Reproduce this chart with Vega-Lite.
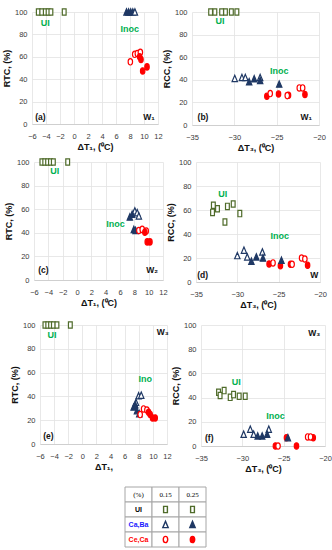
{
 "$schema": "https://vega.github.io/schema/vega-lite/v6.json",
 "padding": {"left": 2, "top": 6, "right": 0, "bottom": 0},
 "background": "white",
 "spacing": 3,
 "datasets": {
  "pts": [
   {"p":"a","s":"CC15","x":8.05,"y":55.5},{"p":"a","s":"CC15","x":8.67,"y":62.2},{"p":"a","s":"CC15","x":9.05,"y":63},{"p":"a","s":"CC15","x":9.48,"y":64},
   {"p":"a","s":"CC25","x":9.38,"y":60},{"p":"a","s":"CC25","x":9.57,"y":57.6},{"p":"a","s":"CC25","x":9.81,"y":47.4},{"p":"a","s":"CC25","x":10.43,"y":51},
   {"p":"a","s":"CB25","x":7.5,"y":100},{"p":"a","s":"CB25","x":7.8,"y":100},{"p":"a","s":"CB25","x":8.1,"y":100},{"p":"a","s":"CB25","x":8.4,"y":100},{"p":"a","s":"CB15","x":8.7,"y":100},
   {"p":"a","s":"UI15","x":-5.1,"y":100},{"p":"a","s":"UI15","x":-4.6,"y":100},{"p":"a","s":"UI15","x":-4.1,"y":100},{"p":"a","s":"UI25","x":-3.7,"y":100},{"p":"a","s":"UI25","x":-3.3,"y":100},{"p":"a","s":"UI25","x":-1.4,"y":100},

   {"p":"b","s":"CC25","x":-26.16,"y":25.5},{"p":"b","s":"CC25","x":-24.78,"y":27.5},{"p":"b","s":"CC25","x":-23.6,"y":26.4},{"p":"b","s":"CC25","x":-21.66,"y":27},
   {"p":"b","s":"CC15","x":-25.76,"y":27.8},{"p":"b","s":"CC15","x":-23.75,"y":26},{"p":"b","s":"CC15","x":-22.33,"y":32.8},{"p":"b","s":"CC15","x":-21.93,"y":32.8},
   {"p":"b","s":"CB15","x":-29.95,"y":41.2},{"p":"b","s":"CB15","x":-29.1,"y":42},{"p":"b","s":"CB15","x":-28.7,"y":42},{"p":"b","s":"CB15","x":-26.95,"y":42},
   {"p":"b","s":"CB25","x":-28.25,"y":38.3},{"p":"b","s":"CB25","x":-27.65,"y":40.9},{"p":"b","s":"CB25","x":-26.95,"y":39.5},{"p":"b","s":"CB25","x":-24.7,"y":36.2},
   {"p":"b","s":"UI15","x":-32.8,"y":100},{"p":"b","s":"UI15","x":-32.3,"y":100},{"p":"b","s":"UI15","x":-31.05,"y":100},{"p":"b","s":"UI25","x":-31.5,"y":100},{"p":"b","s":"UI25","x":-30.35,"y":100},{"p":"b","s":"UI25","x":-29.7,"y":100},

   {"p":"c","s":"CB15","x":8.07,"y":58.6},{"p":"c","s":"CB15","x":8.4,"y":57.1},{"p":"c","s":"CB15","x":8.63,"y":54.3},
   {"p":"c","s":"CB25","x":7.37,"y":53.4},{"p":"c","s":"CB25","x":7.7,"y":55.7},{"p":"c","s":"CB25","x":7.93,"y":42.9},{"p":"c","s":"CB25","x":8.17,"y":42},
   {"p":"c","s":"CC15","x":8.63,"y":42},{"p":"c","s":"CC15","x":9.1,"y":42.9},{"p":"c","s":"CC15","x":9.66,"y":41.5},
   {"p":"c","s":"CC25","x":9.47,"y":40.5},{"p":"c","s":"CC25","x":9.8,"y":32.3},{"p":"c","s":"CC25","x":10.18,"y":32.3},
   {"p":"c","s":"UI15","x":-4.9,"y":100},{"p":"c","s":"UI15","x":-4.5,"y":100},{"p":"c","s":"UI15","x":-4.1,"y":100},{"p":"c","s":"UI25","x":-3.7,"y":100},{"p":"c","s":"UI25","x":-3.3,"y":100},{"p":"c","s":"UI25","x":-1.3,"y":100},

   {"p":"d","s":"CC25","x":-26.16,"y":15},{"p":"d","s":"CC25","x":-24.79,"y":13.6},{"p":"d","s":"CC25","x":-23.57,"y":14.8},{"p":"d","s":"CC25","x":-21.5,"y":13.9},
   {"p":"d","s":"CC15","x":-25.68,"y":15.9},{"p":"d","s":"CC15","x":-23.37,"y":14.8},{"p":"d","s":"CC15","x":-22.23,"y":20},{"p":"d","s":"CC15","x":-21.83,"y":19.2},
   {"p":"d","s":"CB15","x":-30.0,"y":22},{"p":"d","s":"CB15","x":-29.2,"y":26.5},{"p":"d","s":"CB15","x":-28.8,"y":20.9},{"p":"d","s":"CB15","x":-26.97,"y":25},
   {"p":"d","s":"CB25","x":-28.3,"y":17.3},{"p":"d","s":"CB25","x":-27.7,"y":20.9},{"p":"d","s":"CB25","x":-26.9,"y":20},{"p":"d","s":"CB25","x":-24.66,"y":18.1},
   {"p":"d","s":"UI15","x":-33.0,"y":58},{"p":"d","s":"UI15","x":-32.9,"y":64},{"p":"d","s":"UI15","x":-32.4,"y":61},{"p":"d","s":"UI15","x":-31.5,"y":50},
   {"p":"d","s":"UI25","x":-31.2,"y":63},{"p":"d","s":"UI25","x":-30.5,"y":65},{"p":"d","s":"UI25","x":-29.7,"y":57},

   {"p":"e","s":"CB15","x":7.98,"y":40.5},{"p":"e","s":"CB15","x":8.35,"y":41},{"p":"e","s":"CB15","x":7.6,"y":35},
   {"p":"e","s":"CB25","x":7.27,"y":31},{"p":"e","s":"CB25","x":7.5,"y":33},{"p":"e","s":"CB25","x":7.74,"y":28},{"p":"e","s":"CB25","x":8.07,"y":25.5},
   {"p":"e","s":"CC15","x":8.2,"y":24.7},{"p":"e","s":"CC15","x":8.68,"y":29.5},{"p":"e","s":"CC15","x":9.15,"y":28.6},
   {"p":"e","s":"CC25","x":9.39,"y":26.7},{"p":"e","s":"CC25","x":9.62,"y":24.7},{"p":"e","s":"CC25","x":9.95,"y":21.9},{"p":"e","s":"CC25","x":10.33,"y":21.9},
   {"p":"e","s":"UI15","x":-5.3,"y":100},{"p":"e","s":"UI15","x":-4.9,"y":100},{"p":"e","s":"UI15","x":-4.5,"y":100},{"p":"e","s":"UI25","x":-4.1,"y":100},{"p":"e","s":"UI25","x":-3.6,"y":100},{"p":"e","s":"UI25","x":-1.7,"y":100},

   {"p":"f","s":"CC25","x":-26.0,"y":0},{"p":"f","s":"CC25","x":-23.45,"y":0},{"p":"f","s":"CC25","x":-24.66,"y":6.9},{"p":"f","s":"CC25","x":-21.42,"y":6.9},
   {"p":"f","s":"CC15","x":-25.68,"y":0},{"p":"f","s":"CC15","x":-22.1,"y":7.5},{"p":"f","s":"CC15","x":-21.75,"y":7.5},
   {"p":"f","s":"CB15","x":-29.84,"y":9.7},{"p":"f","s":"CB15","x":-29.04,"y":13.9},{"p":"f","s":"CB15","x":-28.63,"y":9.7},{"p":"f","s":"CB15","x":-26.8,"y":13.9},
   {"p":"f","s":"CB25","x":-28.14,"y":8.3},{"p":"f","s":"CB25","x":-27.6,"y":8.3},{"p":"f","s":"CB25","x":-27.0,"y":9.7},{"p":"f","s":"CB25","x":-24.49,"y":6.9},
   {"p":"f","s":"UI15","x":-32.88,"y":44.4},{"p":"f","s":"UI15","x":-32.69,"y":41.7},{"p":"f","s":"UI15","x":-32.2,"y":45.8},{"p":"f","s":"UI15","x":-31.47,"y":40.2},
   {"p":"f","s":"UI25","x":-31.06,"y":42.5},{"p":"f","s":"UI25","x":-30.38,"y":41.1},{"p":"f","s":"UI25","x":-29.65,"y":41.1}
  ],
  "lab": [
   {"p":"a","k":"g","t":"UI","x":-4.1,"y":90},{"p":"a","k":"g","t":"Inoc","x":7.95,"y":85},{"p":"a","k":"k","t":"(a)","x":-4.8,"y":6},{"p":"a","k":"k","t":"W₁","x":10.7,"y":6},
   {"p":"b","k":"g","t":"UI","x":-31.7,"y":92},{"p":"b","k":"g","t":"Inoc","x":-24.7,"y":48},{"p":"b","k":"k","t":"(b)","x":-33.7,"y":7.5},{"p":"b","k":"k","t":"W₁","x":-21.5,"y":7.5},
   {"p":"c","k":"g","t":"UI","x":-3.1,"y":92},{"p":"c","k":"g","t":"Inoc","x":5.36,"y":47.7},{"p":"c","k":"k","t":"(c)","x":-4.7,"y":8.6},{"p":"c","k":"k","t":"W₂","x":10.5,"y":8.6},
   {"p":"d","k":"g","t":"UI","x":-31.76,"y":73},{"p":"d","k":"g","t":"Inoc","x":-24.87,"y":38.2},{"p":"d","k":"k","t":"(d)","x":-34.2,"y":5.6},{"p":"d","k":"k","t":"W","x":-20.7,"y":5.6},
   {"p":"e","k":"g","t":"UI","x":-4.3,"y":92},{"p":"e","k":"g","t":"Ino","x":8.9,"y":54.7},{"p":"e","k":"k","t":"(e)","x":-4.8,"y":6.5},{"p":"e","k":"k","t":"W₃","x":11.4,"y":94},
   {"p":"f","k":"g","t":"UI","x":-30.74,"y":52.8},{"p":"f","k":"g","t":"Inoc","x":-26.0,"y":25},{"p":"f","k":"k","t":"(f)","x":-34.0,"y":7},{"p":"f","k":"k","t":"W₃","x":-21.3,"y":93}
  ],
  "tbl": [
   {"r":"h","c":"c0","t":"(%)","kind":"serif"},{"r":"h","c":"c1","t":"0.15","kind":"serif"},{"r":"h","c":"c2","t":"0.25","kind":"serif"},
   {"r":"UI","c":"c0","t":"UI","kind":"lab"},{"r":"UI","c":"c1","s":"UI15"},{"r":"UI","c":"c2","s":"UI25"},
   {"r":"CB","c":"c0","t":"Ca,Ba","kind":"lab"},{"r":"CB","c":"c1","s":"CB15"},{"r":"CB","c":"c2","s":"CB25"},
   {"r":"CC","c":"c0","t":"Ce,Ca","kind":"lab"},{"r":"CC","c":"c1","s":"CC15"},{"r":"CC","c":"c2","s":"CC25"}
  ]
 },
 "vconcat": [
  {"bounds": "flush", "spacing": 0, "hconcat": [
   {"width": 28, "height": 140, "data": {"values": [{}]}, "mark": {"type": "rect", "opacity": 0}},
   {"width": 126, "height": 112,
    "encoding": {
     "x": {"field":"x","type":"quantitative","scale":{"domain":[-6,12],"nice":false,"zero":false},"axis":{"values":[-6,-4,-2,0,2,4,6,8,10,12],"title":"ΔT₁, (⁰C)"}},
     "y": {"field":"y","type":"quantitative","scale":{"domain":[0,100]},"axis":{"values":[0,20,40,60,80,100],"title":"RTC, (%)"}}
    },
    "layer": [
     {"data":{"name":"pts"},"transform":[{"filter":"datum.p==='a'"}],
      "mark":{"type":"point","filled":true,"size":40,"strokeWidth":1.2,"opacity":1},
      "encoding":{
       "shape":{"field":"s","type":"nominal","scale":{"domain":["UI15","UI25","CB15","CB25","CC15","CC25"],"range":["M-0.6,-1L0.6,-1L0.6,1L-0.6,1Z","M-0.6,-1L0.6,-1L0.6,1L-0.6,1Z","M0,-1L0.85,1L-0.85,1Z","M0,-1L0.85,1L-0.85,1Z","M0,-1A0.7,1 0 1 1 0,1A0.7,1 0 1 1 0,-1Z","M0,-1A0.7,1 0 1 1 0,1A0.7,1 0 1 1 0,-1Z"]},"legend":null},
       "fill":{"field":"s","type":"nominal","scale":{"domain":["UI15","UI25","CB15","CB25","CC15","CC25"],"range":["#ffffff","#ffffff","#ffffff","#1f3864","#ffffff","#ff0000"]},"legend":null},
       "stroke":{"field":"s","type":"nominal","scale":{"domain":["UI15","UI25","CB15","CB25","CC15","CC25"],"range":["#4f6b2a","#4f6b2a","#1f3864","#1f3864","#ff0000","#ff0000"]},"legend":null}
      }},
     {"data":{"name":"lab"},"transform":[{"filter":"datum.p==='a' && datum.k==='g'"}],"mark":{"type":"text","fontWeight":"bold","fontSize":9,"color":"#00b050"},"encoding":{"text":{"field":"t"}}},
     {"data":{"name":"lab"},"transform":[{"filter":"datum.p==='a' && datum.k==='k'"}],"mark":{"type":"text","fontWeight":"bold","fontSize":8.5,"color":"#111111"},"encoding":{"text":{"field":"t"}}}
    ]},
   {"width": 34, "height": 1, "data": {"values": [{}]}, "mark": {"type": "rect", "opacity": 0}},
   {"width": 127, "height": 113,
    "encoding": {
     "x": {"field":"x","type":"quantitative","scale":{"domain":[-35,-20],"nice":false,"zero":false},"axis":{"values":[-35,-30,-25,-20],"title":"ΔT₃, (⁰C)"}},
     "y": {"field":"y","type":"quantitative","scale":{"domain":[0,100]},"axis":{"values":[0,20,40,60,80,100],"title":"RCC, (%)"}}
    },
    "layer": [
     {"data":{"name":"pts"},"transform":[{"filter":"datum.p==='b'"}],
      "mark":{"type":"point","filled":true,"size":40,"strokeWidth":1.2,"opacity":1},
      "encoding":{
       "shape":{"field":"s","type":"nominal","scale":{"domain":["UI15","UI25","CB15","CB25","CC15","CC25"],"range":["M-0.6,-1L0.6,-1L0.6,1L-0.6,1Z","M-0.6,-1L0.6,-1L0.6,1L-0.6,1Z","M0,-1L0.85,1L-0.85,1Z","M0,-1L0.85,1L-0.85,1Z","M0,-1A0.7,1 0 1 1 0,1A0.7,1 0 1 1 0,-1Z","M0,-1A0.7,1 0 1 1 0,1A0.7,1 0 1 1 0,-1Z"]},"legend":null},
       "fill":{"field":"s","type":"nominal","scale":{"domain":["UI15","UI25","CB15","CB25","CC15","CC25"],"range":["#ffffff","#ffffff","#ffffff","#1f3864","#ffffff","#ff0000"]},"legend":null},
       "stroke":{"field":"s","type":"nominal","scale":{"domain":["UI15","UI25","CB15","CB25","CC15","CC25"],"range":["#4f6b2a","#4f6b2a","#1f3864","#1f3864","#ff0000","#ff0000"]},"legend":null}
      }},
     {"data":{"name":"lab"},"transform":[{"filter":"datum.p==='b' && datum.k==='g'"}],"mark":{"type":"text","fontWeight":"bold","fontSize":9,"color":"#00b050"},"encoding":{"text":{"field":"t"}}},
     {"data":{"name":"lab"},"transform":[{"filter":"datum.p==='b' && datum.k==='k'"}],"mark":{"type":"text","fontWeight":"bold","fontSize":8.5,"color":"#111111"},"encoding":{"text":{"field":"t"}}}
    ]}
  ]},
  {"bounds": "flush", "spacing": 0, "hconcat": [
   {"width": 30, "height": 154, "data": {"values": [{}]}, "mark": {"type": "rect", "opacity": 0}},
   {"width": 129, "height": 118,
    "encoding": {
     "x": {"field":"x","type":"quantitative","scale":{"domain":[-6,12],"nice":false,"zero":false},"axis":{"values":[-6,-4,-2,0,2,4,6,8,10,12],"title":"ΔT₁, (⁰C)"}},
     "y": {"field":"y","type":"quantitative","scale":{"domain":[0,100]},"axis":{"values":[0,20,40,60,80,100],"title":"RTC, (%)"}}
    },
    "layer": [
     {"data":{"name":"pts"},"transform":[{"filter":"datum.p==='c'"}],
      "mark":{"type":"point","filled":true,"size":40,"strokeWidth":1.2,"opacity":1},
      "encoding":{
       "shape":{"field":"s","type":"nominal","scale":{"domain":["UI15","UI25","CB15","CB25","CC15","CC25"],"range":["M-0.6,-1L0.6,-1L0.6,1L-0.6,1Z","M-0.6,-1L0.6,-1L0.6,1L-0.6,1Z","M0,-1L0.85,1L-0.85,1Z","M0,-1L0.85,1L-0.85,1Z","M0,-1A0.7,1 0 1 1 0,1A0.7,1 0 1 1 0,-1Z","M0,-1A0.7,1 0 1 1 0,1A0.7,1 0 1 1 0,-1Z"]},"legend":null},
       "fill":{"field":"s","type":"nominal","scale":{"domain":["UI15","UI25","CB15","CB25","CC15","CC25"],"range":["#ffffff","#ffffff","#ffffff","#1f3864","#ffffff","#ff0000"]},"legend":null},
       "stroke":{"field":"s","type":"nominal","scale":{"domain":["UI15","UI25","CB15","CB25","CC15","CC25"],"range":["#4f6b2a","#4f6b2a","#1f3864","#1f3864","#ff0000","#ff0000"]},"legend":null}
      }},
     {"data":{"name":"lab"},"transform":[{"filter":"datum.p==='c' && datum.k==='g'"}],"mark":{"type":"text","fontWeight":"bold","fontSize":9,"color":"#00b050"},"encoding":{"text":{"field":"t"}}},
     {"data":{"name":"lab"},"transform":[{"filter":"datum.p==='c' && datum.k==='k'"}],"mark":{"type":"text","fontWeight":"bold","fontSize":8.5,"color":"#111111"},"encoding":{"text":{"field":"t"}}}
    ]},
   {"width": 33, "height": 1, "data": {"values": [{}]}, "mark": {"type": "rect", "opacity": 0}},
   {"width": 124, "height": 120,
    "encoding": {
     "x": {"field":"x","type":"quantitative","scale":{"domain":[-35,-20],"nice":false,"zero":false},"axis":{"values":[-35,-30,-25,-20],"title":"ΔT₃, (⁰C)"}},
     "y": {"field":"y","type":"quantitative","scale":{"domain":[0,100]},"axis":{"values":[0,20,40,60,80,100],"title":"RCC, (%)"}}
    },
    "layer": [
     {"data":{"name":"pts"},"transform":[{"filter":"datum.p==='d'"}],
      "mark":{"type":"point","filled":true,"size":40,"strokeWidth":1.2,"opacity":1},
      "encoding":{
       "shape":{"field":"s","type":"nominal","scale":{"domain":["UI15","UI25","CB15","CB25","CC15","CC25"],"range":["M-0.6,-1L0.6,-1L0.6,1L-0.6,1Z","M-0.6,-1L0.6,-1L0.6,1L-0.6,1Z","M0,-1L0.85,1L-0.85,1Z","M0,-1L0.85,1L-0.85,1Z","M0,-1A0.7,1 0 1 1 0,1A0.7,1 0 1 1 0,-1Z","M0,-1A0.7,1 0 1 1 0,1A0.7,1 0 1 1 0,-1Z"]},"legend":null},
       "fill":{"field":"s","type":"nominal","scale":{"domain":["UI15","UI25","CB15","CB25","CC15","CC25"],"range":["#ffffff","#ffffff","#ffffff","#1f3864","#ffffff","#ff0000"]},"legend":null},
       "stroke":{"field":"s","type":"nominal","scale":{"domain":["UI15","UI25","CB15","CB25","CC15","CC25"],"range":["#4f6b2a","#4f6b2a","#1f3864","#1f3864","#ff0000","#ff0000"]},"legend":null}
      }},
     {"data":{"name":"lab"},"transform":[{"filter":"datum.p==='d' && datum.k==='g'"}],"mark":{"type":"text","fontWeight":"bold","fontSize":9,"color":"#00b050"},"encoding":{"text":{"field":"t"}}},
     {"data":{"name":"lab"},"transform":[{"filter":"datum.p==='d' && datum.k==='k'"}],"mark":{"type":"text","fontWeight":"bold","fontSize":8.5,"color":"#111111"},"encoding":{"text":{"field":"t"}}}
    ]}
  ]},
  {"bounds": "flush", "spacing": 0, "hconcat": [
   {"width": 36, "height": 158, "data": {"values": [{}]}, "mark": {"type": "rect", "opacity": 0}},
   {"width": 127, "height": 119,
    "encoding": {
     "x": {"field":"x","type":"quantitative","scale":{"domain":[-6,12],"nice":false,"zero":false},"axis":{"values":[-6,-4,-2,0,2,4,6,8,10,12],"title":"ΔT₁,"}},
     "y": {"field":"y","type":"quantitative","scale":{"domain":[0,100]},"axis":{"values":[0,20,40,60,80,100],"title":"RTC, (%)"}}
    },
    "layer": [
     {"data":{"name":"pts"},"transform":[{"filter":"datum.p==='e'"}],
      "mark":{"type":"point","filled":true,"size":40,"strokeWidth":1.2,"opacity":1},
      "encoding":{
       "shape":{"field":"s","type":"nominal","scale":{"domain":["UI15","UI25","CB15","CB25","CC15","CC25"],"range":["M-0.6,-1L0.6,-1L0.6,1L-0.6,1Z","M-0.6,-1L0.6,-1L0.6,1L-0.6,1Z","M0,-1L0.85,1L-0.85,1Z","M0,-1L0.85,1L-0.85,1Z","M0,-1A0.7,1 0 1 1 0,1A0.7,1 0 1 1 0,-1Z","M0,-1A0.7,1 0 1 1 0,1A0.7,1 0 1 1 0,-1Z"]},"legend":null},
       "fill":{"field":"s","type":"nominal","scale":{"domain":["UI15","UI25","CB15","CB25","CC15","CC25"],"range":["#ffffff","#ffffff","#ffffff","#1f3864","#ffffff","#ff0000"]},"legend":null},
       "stroke":{"field":"s","type":"nominal","scale":{"domain":["UI15","UI25","CB15","CB25","CC15","CC25"],"range":["#4f6b2a","#4f6b2a","#1f3864","#1f3864","#ff0000","#ff0000"]},"legend":null}
      }},
     {"data":{"name":"lab"},"transform":[{"filter":"datum.p==='e' && datum.k==='g'"}],"mark":{"type":"text","fontWeight":"bold","fontSize":9,"color":"#00b050"},"encoding":{"text":{"field":"t"}}},
     {"data":{"name":"lab"},"transform":[{"filter":"datum.p==='e' && datum.k==='k'"}],"mark":{"type":"text","fontWeight":"bold","fontSize":8.5,"color":"#111111"},"encoding":{"text":{"field":"t"}}}
    ]},
   {"width": 34, "height": 1, "data": {"values": [{}]}, "mark": {"type": "rect", "opacity": 0}},
   {"width": 124, "height": 121,
    "encoding": {
     "x": {"field":"x","type":"quantitative","scale":{"domain":[-35,-20],"nice":false,"zero":false},"axis":{"values":[-35,-30,-25,-20],"title":"ΔT₃, (⁰C)"}},
     "y": {"field":"y","type":"quantitative","scale":{"domain":[0,100]},"axis":{"values":[0,20,40,60,80,100],"title":"RCC, (%)"}}
    },
    "layer": [
     {"data":{"name":"pts"},"transform":[{"filter":"datum.p==='f'"}],
      "mark":{"type":"point","filled":true,"size":40,"strokeWidth":1.2,"opacity":1},
      "encoding":{
       "shape":{"field":"s","type":"nominal","scale":{"domain":["UI15","UI25","CB15","CB25","CC15","CC25"],"range":["M-0.6,-1L0.6,-1L0.6,1L-0.6,1Z","M-0.6,-1L0.6,-1L0.6,1L-0.6,1Z","M0,-1L0.85,1L-0.85,1Z","M0,-1L0.85,1L-0.85,1Z","M0,-1A0.7,1 0 1 1 0,1A0.7,1 0 1 1 0,-1Z","M0,-1A0.7,1 0 1 1 0,1A0.7,1 0 1 1 0,-1Z"]},"legend":null},
       "fill":{"field":"s","type":"nominal","scale":{"domain":["UI15","UI25","CB15","CB25","CC15","CC25"],"range":["#ffffff","#ffffff","#ffffff","#1f3864","#ffffff","#ff0000"]},"legend":null},
       "stroke":{"field":"s","type":"nominal","scale":{"domain":["UI15","UI25","CB15","CB25","CC15","CC25"],"range":["#4f6b2a","#4f6b2a","#1f3864","#1f3864","#ff0000","#ff0000"]},"legend":null}
      }},
     {"data":{"name":"lab"},"transform":[{"filter":"datum.p==='f' && datum.k==='g'"}],"mark":{"type":"text","fontWeight":"bold","fontSize":9,"color":"#00b050"},"encoding":{"text":{"field":"t"}}},
     {"data":{"name":"lab"},"transform":[{"filter":"datum.p==='f' && datum.k==='k'"}],"mark":{"type":"text","fontWeight":"bold","fontSize":8.5,"color":"#111111"},"encoding":{"text":{"field":"t"}}}
    ]}
  ]},
  {"bounds": "flush", "spacing": 0, "hconcat": [
   {"width": 121, "height": 1, "data": {"values": [{}]}, "mark": {"type": "rect", "opacity": 0}},
   {"width": 81, "height": 60,
    "data": {"name": "tbl"},
    "encoding": {
     "x": {"field":"c","type":"nominal","scale":{"domain":["c0","c1","c2"],"paddingInner":0,"paddingOuter":0},"axis":null},
     "y": {"field":"r","type":"nominal","scale":{"domain":["h","UI","CB","CC"],"paddingInner":0,"paddingOuter":0},"axis":null}
    },
    "layer": [
     {"mark":{"type":"rect","fill":"#ffffff","stroke":"#a6a6a6","strokeWidth":1}},
     {"transform":[{"filter":"datum.kind==='serif'"}],"mark":{"type":"text","font":"Liberation Serif","fontSize":7,"color":"#000000"},"encoding":{"text":{"field":"t"}}},
     {"transform":[{"filter":"datum.kind==='lab'"}],"mark":{"type":"text","fontWeight":"bold","fontSize":7},"encoding":{"text":{"field":"t"},"color":{"field":"r","type":"nominal","scale":{"domain":["UI","CB","CC"],"range":["#000000","#1a1aff","#ff0000"]},"legend":null}}},
     {"transform":[{"filter":"isValid(datum.s)"}],
      "mark":{"type":"point","filled":true,"size":40,"strokeWidth":1.4,"opacity":1},
      "encoding":{
       "shape":{"field":"s","type":"nominal","scale":{"domain":["UI15","UI25","CB15","CB25","CC15","CC25"],"range":["M-0.6,-1L0.6,-1L0.6,1L-0.6,1Z","M-0.6,-1L0.6,-1L0.6,1L-0.6,1Z","M0,-1L0.85,1L-0.85,1Z","M0,-1L0.85,1L-0.85,1Z","M0,-1A0.7,1 0 1 1 0,1A0.7,1 0 1 1 0,-1Z","M0,-1A0.7,1 0 1 1 0,1A0.7,1 0 1 1 0,-1Z"]},"legend":null},
       "fill":{"field":"s","type":"nominal","scale":{"domain":["UI15","UI25","CB15","CB25","CC15","CC25"],"range":["#ffffff","#ffffff","#ffffff","#1f3864","#ffffff","#ff0000"]},"legend":null},
       "stroke":{"field":"s","type":"nominal","scale":{"domain":["UI15","UI25","CB15","CB25","CC15","CC25"],"range":["#4f6b2a","#4f6b2a","#1f3864","#1f3864","#ff0000","#ff0000"]},"legend":null}
      }}
    ]}
  ]}
 ],
 "config": {
  "font": "Liberation Sans",
  "view": {"stroke": null},
  "axis": {
   "labelFont": "Liberation Sans Narrow, Liberation Sans",
   "labelFontSize": 7.5,
   "labelColor": "#3a3a3a",
   "titleFont": "Liberation Sans",
   "titleFontSize": 9,
   "titleFontWeight": "bold",
   "titleColor": "#111111",
   "grid": true,
   "gridColor": "#e2e2e2",
   "gridWidth": 0.8,
   "domainColor": "#cfcfcf",
   "ticks": false,
   "labelFlush": false,
   "labelOverlap": false
  },
  "axisX": {"labelPadding": 8, "titlePadding": 3},
  "axisY": {"labelPadding": 5, "titlePadding": 3, "domain": false}
 }
}
